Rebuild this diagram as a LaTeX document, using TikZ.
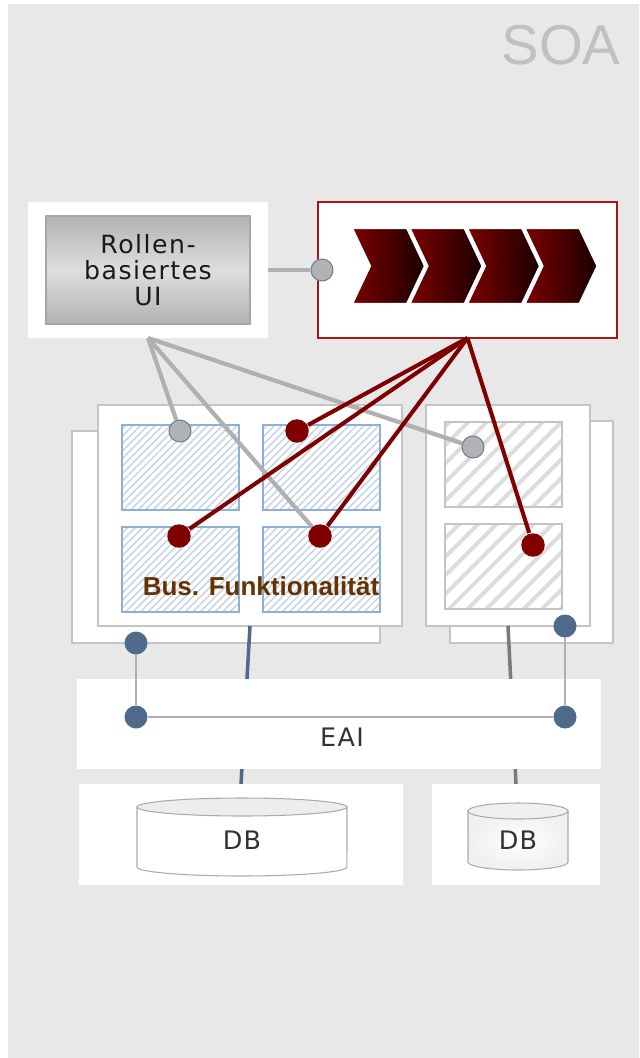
\documentclass[tikz,border=0pt]{standalone}
\usepackage{fontspec}
\setmainfont{DejaVu Sans}
\newfontfamily\arialfont{Liberation Sans}
\usetikzlibrary{patterns.meta}

\definecolor{panelgray}{HTML}{E8E8E8}
\definecolor{soagray}{HTML}{C0C0C0}
\definecolor{linegray}{HTML}{B0B0B0}
\definecolor{boxgray}{HTML}{C4C4C4}
\definecolor{darkred}{HTML}{800000}
\definecolor{procred}{HTML}{A01818}
\definecolor{chevleft}{HTML}{7C0000}
\definecolor{chevright}{HTML}{1A0000}
\definecolor{dotblue}{HTML}{4F6A8A}
\definecolor{hatchblue}{HTML}{C3D2E4}
\definecolor{edgeblue}{HTML}{8DAFD8}
\definecolor{hatchgray}{HTML}{DCDCDC}
\definecolor{busbrown}{HTML}{663300}
\definecolor{textgray}{HTML}{333333}
\definecolor{dbline}{HTML}{7A7A7A}

\begin{document}
\begin{tikzpicture}[x = 0.02cm, y = -0.02cm, line width = 1pt,
    panel/.style = {rectangle, fill = white, inner sep = 0pt, outer sep = 0pt},
    group/.style = {rectangle, draw = boxgray, fill = white, line width = 0.9pt, inner sep = 0pt, outer sep = 0pt},
    bluebox/.style = {rectangle, draw = edgeblue, line width = 0.7pt, inner sep = 0pt,
                      minimum width = 2.34cm, minimum height = 1.7cm,
                      pattern = {Lines[angle = 45, distance = 3pt, line width = 0.8pt]}, pattern color = hatchblue},
    graybox/.style = {rectangle, draw = boxgray, line width = 0.7pt, inner sep = 0pt,
                      minimum width = 2.34cm, minimum height = 1.7cm,
                      pattern = {Lines[angle = 45, distance = 7.5pt, line width = 2.2pt]}, pattern color = hatchgray},
    greydot/.style = {circle, draw = dotblue!85, fill = black!30, minimum size = 0.44cm, inner sep = 0pt, line width = 0.6pt},
    reddot/.style = {circle, fill = darkred, minimum size = 0.47cm, inner sep = 0pt},
    bluedot/.style = {circle, fill = dotblue, minimum size = 0.46cm, inner sep = 0pt},
    greyline/.style = {draw = linegray, line width = 2.4pt},
    redline/.style = {draw = darkred, line width = 2.3pt},
    thinline/.style = {draw = linegray, line width = 0.7pt},
    chevron/.style = {left color = chevleft, right color = chevright, draw = white, line width = 1.2pt},
    txt/.style = {text = textgray, font = \fontsize{14.5}{15}\selectfont\addfontfeatures{LetterSpace = 5}}]
  \useasboundingbox (0, 0) rectangle (639, 1058);
  \fill[white] (0, 0) rectangle (639, 1058);
  \fill[panelgray] (8, 4) rectangle (639, 1058);
  \node [text = soagray, anchor = base, font = \arialfont\fontsize{32}{33}\selectfont] (soa) at (561, 64) {SOA};

  \node [panel, minimum width = 4.8cm, minimum height = 2.72cm] (uipanel) at (148, 270) {};
  \node [rectangle, draw = black!35, line width = 0.6pt, top color = black!30, bottom color = black!30, middle color = black!13,
         minimum width = 4.08cm, minimum height = 2.16cm, inner sep = 0pt, align = center,
         font = \fontsize{14.3}{14.7}\selectfont\addfontfeatures{LetterSpace = 6}, text = black!90] (ui) at (148, 270)
        {Rollen-\\basiertes\\UI};
  \node [panel, draw = procred, line width = 0.7pt, minimum width = 5.98cm, minimum height = 2.72cm] (proc) at (467.5, 270) {};
  \foreach \i in {0, ..., 3}
    \shadedraw[chevron] ({352 + 57.5*\i}, 228) -- ++(55, 0) -- ++(18, 38) -- ++(-18, 38) -- ++(-55, 0) -- ++(18, -38) -- cycle;
  \node [greydot] (pc) at (322, 270) {};
  \draw[greyline] (uipanel.east) -- (pc);

  \node [group, minimum width = 6.16cm, minimum height = 4.24cm] (leftback) at (226, 537) {};
  \node [group, minimum width = 6.08cm, minimum height = 4.42cm] (leftfront) at (250, 515.5) {};
  \node [bluebox] (f1) at (180.5, 467.5) {};
  \node [bluebox] (f2) at (321.5, 467.5) {};
  \node [bluebox] (f3) at (180.5, 569.5) {};
  \node [bluebox] (f4) at (321.5, 569.5) {};
  \node [text = busbrown, anchor = base, font = \arialfont\bfseries\fontsize{14.8}{15}\selectfont] (bus) at (261, 595) {Bus. Funktionalität};

  \node [group, minimum width = 3.26cm, minimum height = 4.44cm] (rightback) at (531.5, 532) {};
  \node [group, minimum width = 3.28cm, minimum height = 4.42cm] (rightfront) at (508, 515.5) {};
  \node [graybox] (s1) at (503.5, 464.5) {};
  \node [graybox] (s2) at (503.5, 566.5) {};

  \node [panel, minimum width = 6.48cm, minimum height = 2.02cm] (dbl) at (241, 834.5) {};
  \node [panel, minimum width = 3.36cm, minimum height = 2.02cm] (dbr) at (516, 834.5) {};
  \draw[draw = dotblue, line width = 2pt] (leftfront.south) -- (dbl.north);
  \draw[draw = dbline, line width = 2pt] (rightfront.south) -- (dbr.north);
  \node [panel, minimum width = 10.48cm, minimum height = 1.8cm] (eai) at (339, 724) {};
  \node [panel, minimum width = 6.48cm, minimum height = 2.02cm] at (241, 834.5) {};
  \node [panel, minimum width = 3.36cm, minimum height = 2.02cm] at (516, 834.5) {};
  \node [txt] (eaitext) at (342, 737) {EAI};

  \filldraw[fill = white, draw = black!33, line width = 0.6pt] (137, 807) -- (137, 867)
    arc[start angle = 180, end angle = 360, x radius = 2.1cm, y radius = 0.18cm] -- (347, 807) -- cycle;
  \filldraw[fill = black!7, draw = black!33, line width = 0.6pt] (242, 807) ellipse [x radius = 2.1cm, y radius = 0.18cm];
  \node [txt] (db1) at (242, 840) {DB};
  \shadedraw[inner color = white, outer color = black!6, draw = black!33, line width = 0.6pt] (468, 811) -- (468, 862)
    arc[start angle = 180, end angle = 360, x radius = 1cm, y radius = 0.16cm] -- (568, 811) -- cycle;
  \filldraw[fill = black!6, draw = black!33, line width = 0.6pt] (518, 811) ellipse [x radius = 1cm, y radius = 0.16cm];
  \node [txt] (db2) at (518, 840) {DB};

  \node [bluedot] (b1) at (136, 643) {};
  \node [bluedot] (b2) at (565, 626) {};
  \node [bluedot] (b3) at (136, 717) {};
  \node [bluedot] (b4) at (565, 717) {};
  \draw[thinline] (b1) -- (b3);
  \draw[thinline] (b2) -- (b4);
  \draw[thinline] (b3) -- (b4);

  \node [greydot] (g1) at (180, 431) {};
  \node [greydot] (g2) at (473, 447) {};
  \node [reddot] (r1) at (297, 431) {};
  \node [reddot] (r2) at (179, 536) {};
  \node [reddot] (r3) at (320, 536) {};
  \node [reddot] (r4) at (533, 545) {};
  \draw[greyline] (uipanel.south) -- (g1);
  \draw[greyline] (uipanel.south) -- (r3);
  \draw[greyline] (uipanel.south) -- (g2);
  \draw[redline] (proc.south) -- (r1);
  \draw[redline] (proc.south) -- (r2);
  \draw[redline] (proc.south) -- (r3);
  \draw[redline] (proc.south) -- (r4);
\end{tikzpicture}
\end{document}
